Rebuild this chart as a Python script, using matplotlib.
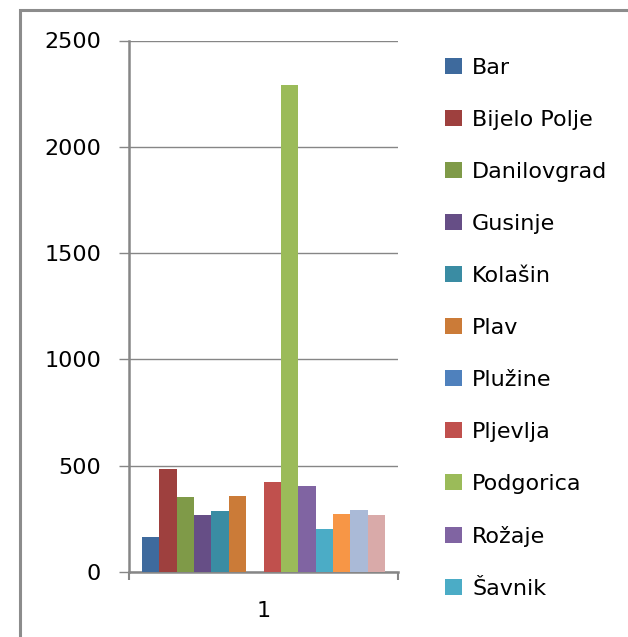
import numpy as np
import matplotlib
matplotlib.use("Agg")
import matplotlib.pyplot as plt
from matplotlib.patches import Rectangle

# data (one category "1", one bar per municipality)
towns = ["Bar", "Bijelo Polje", "Danilovgrad", "Gusinje", "Kolašin", "Plav",
         "Plužine", "Pljevlja", "Podgorica", "Rožaje", "Šavnik",
         "Tivat", "Ulcinj", "Žabljak"]
values = [165, 484, 353, 268, 287, 357, 0, 423, 2292, 404, 202, 273, 292, 268]
colors = ["#3E6A9D", "#9E403E", "#7F9A48", "#664E86", "#3A8CA3", "#CB7B38",
          "#4F81BD", "#C0504D", "#9BBB59", "#8064A2", "#4BACC6",
          "#F79646", "#AABAD7", "#D9AAA9"]
n_legend = 11  # the rest of the legend is cut off in the original
y_ticks = [0, 500, 1000, 1500, 2000, 2500]

W, H = 628, 637
fig = plt.figure(figsize=(W / 100, H / 100), dpi=100)
plt.rcParams['font.family'] = ['DejaVu Sans']
grey = "#868686"

# outer chart border (only top and left edge visible)
fig.add_artist(Rectangle((20 / W, -0.1), 1.2, 1 - 10 / H + 0.1,
                         transform=fig.transFigure, fill=False,
                         edgecolor="#8c8c8c", lw=2.2))

ax = fig.add_axes([129 / W, (H - 572) / H, (398 - 129) / W, (572 - 40.5) / H])

n = len(values)
w = 1 / (n + 1.5)
x0 = -0.5 + 0.75 * w
handles = []
for i, (v, c) in enumerate(zip(values, colors)):
    b = ax.bar(x0 + (i + 0.5) * w, v, width=w, color=c, linewidth=0, zorder=3)
    handles.append(b)

ax.set_xlim(-0.5, 0.5)
ax.set_ylim(0, 2500)
ax.set_yticks(y_ticks)
ax.set_yticklabels([str(t) for t in y_ticks])
ax.yaxis.grid(True, color=grey, lw=1.0, zorder=0)
ax.set_xticks([0])
ax.set_xticklabels(["1"])
ax.set_xticks([-0.5, 0.5], minor=True)
ax.tick_params(axis="x", which="major", length=0, pad=21, labelsize=16)
ax.tick_params(axis="x", which="minor", length=6, width=1.5, color=grey, direction="out")
ax.tick_params(axis="y", length=7, width=1.0, color=grey, pad=13, labelsize=16)
for s in ["top", "right"]:
    ax.spines[s].set_visible(False)
for s in ["left", "bottom"]:
    ax.spines[s].set_color(grey)
    ax.spines[s].set_linewidth(1.8)

fig.legend([h[0] for h in handles[:n_legend]], towns[:n_legend],
           loc="upper left", bbox_to_anchor=(445 / W, 1 - 58 / H),
           frameon=False, fontsize=16, handlelength=0.77, handleheight=0.72,
           handletextpad=0.45, labelspacing=1.44, borderpad=0, borderaxespad=0)

fig.savefig("out.png", dpi=100)
